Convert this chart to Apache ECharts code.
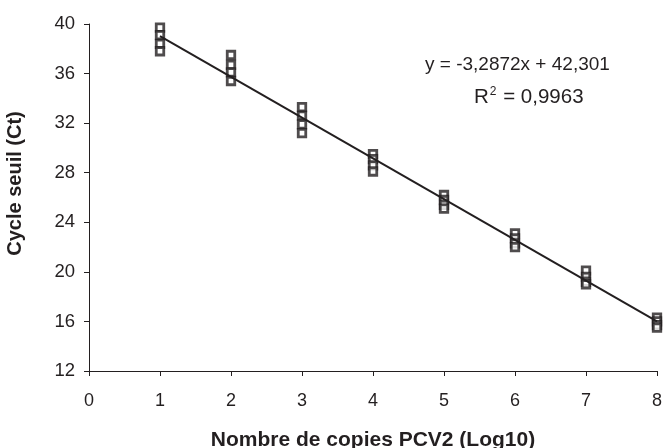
<!DOCTYPE html>
<html>
<head>
<meta charset="utf-8">
<script src="https://cdn.jsdelivr.net/npm/echarts@6/dist/echarts.min.js"></script>
<style>html,body{margin:0;padding:0;background:#fff}#c{width:672px;height:448px}</style>
</head>
<body>
<div id="c"></div>
<script>
const logCopies = [1, 2, 3, 4, 5, 6, 7, 8];
const ctRep1 = [39.7, 37.5, 33.3, 29.5, 26.2, 23.1, 20.1, 16.3];
const ctRep2 = [39.1, 36.7, 32.6, 29.1, 25.8, 22.7, 19.6, 16.0];
const ctRep3 = [38.4, 36.1, 31.9, 28.6, 25.4, 22.3, 19.2, 15.7];
const ctRep4 = [37.8, 35.4, 31.2, 28.1, 25.1, 22.0, 19.0, 15.5];
const slope = -3.2872;
const intercept = 42.301;
const r2Text = '0,9963';
const eqText = 'y = -3,2872x + 42,301';
const xTicks = [0, 1, 2, 3, 4, 5, 6, 7, 8];
const yTicks = [12, 16, 20, 24, 28, 32, 36, 40];

const pts = [];
[ctRep1, ctRep2, ctRep3, ctRep4].forEach(r => r.forEach((v, i) => pts.push([logCopies[i], v])));
const fitLine = [logCopies[0], logCopies[logCopies.length - 1]].map(x => [x, slope * x + intercept]);

const chart = echarts.init(document.getElementById('c'));
const font = 'Liberation Sans, Arial, sans-serif';
chart.setOption({
  animation: false,
  backgroundColor: '#fff',
  grid: { left: 89, right: 15, top: 24, bottom: 77, containLabel: false, outerBoundsMode: 'none' },
  xAxis: {
    type: 'value', min: 0, max: 8, interval: 1,
    name: 'Nombre de copies PCV2 (Log10)', nameLocation: 'middle', nameGap: 59,
    nameTextStyle: { fontFamily: font, fontWeight: 'bold', fontSize: 21, color: '#231f20' },
    axisLine: { show: true, lineStyle: { color: '#231f20', width: 1 } },
    axisTick: { show: true, length: 5, lineStyle: { color: '#231f20' } },
    axisLabel: { fontFamily: font, fontSize: 18, color: '#231f20', margin: 21 },
    splitLine: { show: false }
  },
  yAxis: {
    type: 'value', min: 12, max: 40, interval: 4,
    name: 'Cycle seuil (Ct)', nameLocation: 'middle', nameGap: 64,
    nameTextStyle: { fontFamily: font, fontWeight: 'bold', fontSize: 20, color: '#231f20', padding: [0, 0, 0, 28] },
    axisLine: { show: true, lineStyle: { color: '#231f20', width: 1 } },
    axisTick: { show: true, length: 5, lineStyle: { color: '#231f20' } },
    axisLabel: { fontFamily: font, fontSize: 18.5, color: '#231f20', margin: 14 },
    splitLine: { show: false }
  },
  series: [
    {
      type: 'line', data: fitLine, symbol: 'none', z: 3,
      lineStyle: { color: '#231f20', width: 2 }
    },
    {
      type: 'scatter', data: pts, symbol: 'rect', symbolSize: 7.5, z: 2,
      itemStyle: { color: '#fff', borderColor: '#231f20', borderWidth: 2.8 }
    }
  ],
  graphic: [
    {
      type: 'text', left: 425, top: 55,
      style: { text: eqText, fontFamily: font, fontSize: 19, fill: '#231f20' }
    },
    {
      type: 'text', left: 474, top: 86,
      style: {
        text: '{r|R}{s|2}{r| = ' + r2Text + '}',
        rich: {
          r: { fontFamily: font, fontSize: 20.5, fill: '#231f20', verticalAlign: 'bottom' },
          s: { fontFamily: font, fontSize: 12, fill: '#231f20', verticalAlign: 'top', padding: [0, 1, 10, 1] }
        }
      }
    }
  ]
});
</script>
</body>
</html>
